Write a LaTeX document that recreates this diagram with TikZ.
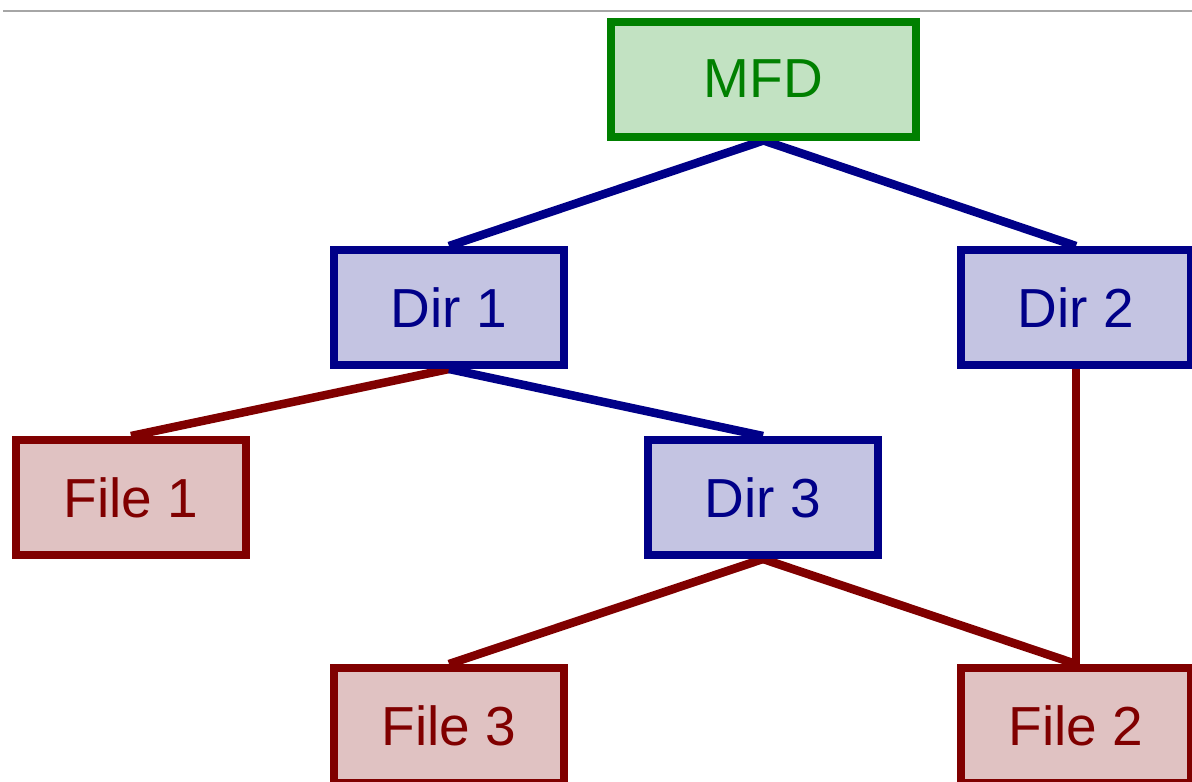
\documentclass[tikz,border=0pt]{standalone}
\usepackage{fontspec}
\setmainfont{Liberation Sans}
\usetikzlibrary{backgrounds}
\definecolor{grnline}{HTML}{008000}
\definecolor{grnfill}{HTML}{C2E2C2}
\definecolor{bluline}{HTML}{000088}
\definecolor{blufill}{HTML}{C4C4E2}
\definecolor{redline}{HTML}{800000}
\definecolor{redfill}{HTML}{E0C2C2}
\tikzset{
  box/.style={rectangle, line width=8pt, minimum width=230pt, minimum height=115pt,
    inner sep=0pt, font=\fontsize{55}{60}\selectfont},
  rootbox/.style={box, draw=grnline, fill=grnfill, text=grnline, minimum width=305pt},
  dirbox/.style={box, draw=bluline, fill=blufill, text=bluline},
  filebox/.style={box, draw=redline, fill=redfill, text=redline},
  dirlink/.style={draw=bluline, line width=8.5pt},
  filelink/.style={draw=redline, line width=8.5pt},
}
\begin{document}
\begin{tikzpicture}[x=1pt,y=-1pt]
  \useasboundingbox (0,0) rectangle (1192,782);
  \clip (0,0) rectangle (1192,782);
  % rule across the top
  \draw[color=black!35, line width=1.5pt] (3,11) -- (1192,11);
  % tree nodes
  \node[rootbox] (mfd) at (763.5,79) {MFD};
  \node[dirbox] (dir1) at (449,307.5) {Dir 1};
  \node[dirbox] (dir2) at (1076,307.5) {Dir 2};
  \node[filebox] (file1) at (131,497.5) {File 1};
  \node[dirbox] (dir3) at (763,497.5) {Dir 3};
  \node[filebox] (file3) at (449,725.5) {File 3};
  \node[filebox] (file2) at (1076,725.5) {File 2};
  % links, kept behind the boxes
  \begin{scope}[on background layer]
    \draw[dirlink] (mfd.south) -- (dir1.north);
    \draw[dirlink] (mfd.south) -- (dir2.north);
    \draw[filelink] (dir1.south) -- (file1.north);
    \draw[dirlink] (dir1.south) -- (dir3.north);
    \draw[filelink] (dir2.south) -- (file2.north);
    \draw[filelink] (dir3.south) -- (file3.north);
    \draw[filelink] (dir3.south) -- (file2.north);
  \end{scope}
\end{tikzpicture}
\end{document}
